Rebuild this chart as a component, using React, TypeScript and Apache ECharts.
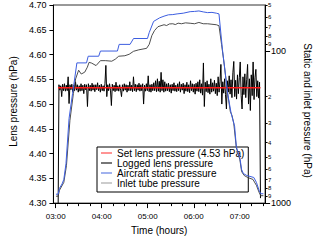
import React, { useEffect, useRef } from 'react';
import * as echarts from 'echarts';

// ---- Data ----
const xMajorHours = [3, 4, 5, 6, 7];
const xMinorHours = [3.25, 3.5, 3.75, 4.25, 4.5, 4.75, 5.25, 5.5, 5.75, 6.25, 6.5, 6.75, 7.25, 7.5];
const rightMinorTicks = [50, 60, 70, 80, 90, 200, 300, 400, 500, 600, 700, 800, 900];
const rightMajorTicks = [100, 1000];

const setLensPressure = 4.533;
const setLensTimes = [3.05, 7.45];

const lensT0 = 3.05;
const lensDt = 0.02;
const lensValues = [
  4.250,
  4.539, 4.528, 4.537, 4.515, 4.540, 4.527, 4.541, 4.526, 4.538,
  4.527, 4.555, 4.501, 4.539, 4.529, 4.540, 4.525, 4.538, 4.527, 4.545,
  4.528, 4.539, 4.524, 4.537, 4.526, 4.541, 4.527, 4.538, 4.521, 4.540,
  4.529, 4.539, 4.495, 4.541, 4.527, 4.538, 4.526, 4.542, 4.528, 4.539,
  4.525, 4.539, 4.529, 4.543, 4.527, 4.538, 4.524, 4.540, 4.527, 4.537,
  4.526, 4.541, 4.578, 4.515, 4.539, 4.527, 4.541, 4.528, 4.497, 4.540,
  4.527, 4.538, 4.525, 4.544, 4.527, 4.537, 4.526, 4.539, 4.528, 4.515,
  4.539, 4.526, 4.541, 4.528, 4.539, 4.524, 4.538, 4.527, 4.545, 4.527,
  4.538, 4.525, 4.555, 4.527, 4.540, 4.525, 4.539, 4.528, 4.542, 4.526,
  4.539, 4.527, 4.541, 4.500, 4.538, 4.526, 4.541, 4.527, 4.557, 4.525,
  4.539, 4.524, 4.540, 4.527, 4.543, 4.527, 4.547, 4.525, 4.551, 4.526,
  4.546, 4.524, 4.564, 4.527, 4.549, 4.524, 4.545, 4.526, 4.541, 4.527,
  4.542, 4.525, 4.539, 4.522, 4.540, 4.527, 4.543, 4.526, 4.538, 4.525,
  4.541, 4.527, 4.545, 4.524, 4.540, 4.528, 4.542, 4.521, 4.539, 4.526,
  4.544, 4.525, 4.539, 4.523, 4.547, 4.527, 4.541, 4.524, 4.540, 4.520,
  4.542, 4.526, 4.545, 4.525, 4.549, 4.522, 4.541, 4.518, 4.583, 4.495,
  4.544, 4.525, 4.547, 4.523, 4.540, 4.520, 4.551, 4.524, 4.543, 4.526,
  4.548, 4.521, 4.542, 4.517, 4.555, 4.524, 4.546, 4.580, 4.500, 4.545,
  4.522, 4.551, 4.519, 4.490, 4.547, 4.524, 4.557, 4.520, 4.549, 4.513,
  4.563, 4.586, 4.515, 4.548, 4.510, 4.559, 4.521, 4.553, 4.585, 4.517,
  4.490, 4.555, 4.519, 4.561, 4.513, 4.549, 4.580, 4.500, 4.551, 4.487,
  4.559, 4.517, 4.585, 4.509, 4.553, 4.570, 4.515, 4.547, 4.512, 4.544,
  4.310,
];

const staticTimes = [3.006, 3.053, 3.081, 3.138, 3.176, 3.223, 3.290, 3.366, 3.460, 3.669, 3.706, 3.934, 3.972, 4.341, 4.379, 4.616, 4.691, 4.994, 5.032, 5.127, 5.259, 5.354, 5.449, 5.544, 5.638, 5.771, 5.922, 6.017, 6.112, 6.206, 6.301, 6.396, 6.491, 6.548, 6.623, 6.737, 6.8125, 6.888, 6.926, 7.002, 7.040, 7.078, 7.153, 7.305, 7.362, 7.419, 7.456, 7.513];
const staticValues = [874, 874, 800, 748, 699, 551, 278, 191, 120, 120, 108.5, 108.5, 100.3, 100.3, 90.7, 90.7, 83.0, 83.0, 75.9, 64.1, 60.7, 59.2, 58.0, 57.8, 57.2, 56.6, 55.3, 55.1, 54.7, 55.5, 56.1, 55.9, 56.6, 57.2, 97.8, 191, 257.6, 312.7, 427.7, 503.8, 602.6, 639.6, 658.9, 678.8, 731.2, 824, 868, 868];

const inletTimes = [3.006, 3.053, 3.081, 3.176, 3.233, 3.309, 3.384, 3.432, 3.498, 3.555, 3.631, 3.688, 3.725, 3.782, 3.877, 3.972, 4.085, 4.218, 4.294, 4.369, 4.502, 4.597, 4.691, 4.805, 4.975, 5.032, 5.089, 5.146, 5.222, 5.354, 5.41, 5.47, 5.544, 5.60, 5.66, 5.733, 5.82, 5.922, 6.017, 6.112, 6.206, 6.301, 6.396, 6.491, 6.548, 6.604, 6.661, 6.737, 6.794, 6.831, 6.869, 6.926, 7.002, 7.040, 7.097, 7.172, 7.286, 7.362, 7.419, 7.456, 7.513];
const inletValues = [901, 901, 824, 731, 568, 286, 191, 153, 134, 142, 138, 128, 119, 120.4, 125, 116, 116, 117, 113.5, 108.5, 107.7, 105.3, 100.7, 98.5, 96.3, 90.7, 79.4, 73.7, 69.4, 67.4, 68.2, 66.6, 66.4, 67.2, 65.8, 66.4, 65.5, 65.9, 66.4, 65.1, 66.4, 66.4, 66.9, 67.4, 68.4, 90.7, 122, 191, 250, 265.5, 299, 434, 519, 621, 659, 679, 699, 765, 849, 894, 894];

const NAME_SET = 'Set lens pressure (4.53 hPa)';
const NAME_LOGGED = 'Logged lens pressure';
const NAME_STATIC = 'Aircraft static pressure';
const NAME_INLET = 'Inlet tube pressure';

const FONT = '"Liberation Sans", Arial, Helvetica, sans-serif';
const RMIN = 50;
const RMAX = 1000;

const ICON_THIN = 'path://M0,0h0.01v0.01h-0.01zM0,4.4h11v1.2h-11zM10.99,9.99h0.01v0.01h-0.01z';
const ICON_THICK = 'path://M0,0h0.01v0.01h-0.01zM0,3.9h11v2.2h-11zM10.99,9.99h0.01v0.01h-0.01z';

export default function App() {
  const ref = useRef<HTMLDivElement>(null);

  useEffect(() => {
    if (!ref.current) return;
    const chart = echarts.init(ref.current, null, { renderer: 'svg' });
    const xMin = 2.95;
    const xMax = 7.55;
    const lgMin = Math.log10(RMIN);
    const lgMax = Math.log10(RMAX);
    const fmtHour = (v: number) => (v < 10 ? '0' : '') + Math.round(v) + ':00';
    const minorLabel = (v: number) => {
      const p = Math.pow(10, v);
      const mag = Math.pow(10, Math.floor(Math.log10(p) + 1e-9));
      return String(Math.round(p / mag));
    };

    chart.setOption({
      animation: false,
      backgroundColor: '#fff',
      textStyle: { fontFamily: FONT },
      grid: {
        left: 43, right: 34, top: 5, bottom: 34,
        show: true, borderColor: '#333', borderWidth: 1, backgroundColor: 'transparent',
      },
      legend: {
        orient: 'vertical',
        left: 97,
        top: 147,
        padding: [1, 4, 4, 4],
        itemWidth: 11,
        itemHeight: 10,
        itemGap: 0,
        backgroundColor: '#fff',
        borderColor: '#000',
        borderWidth: 1,
        borderRadius: 0,
        textStyle: { fontSize: 10, lineHeight: 10, color: '#000', fontFamily: FONT },
        data: [
          { name: NAME_SET, icon: ICON_THIN, itemStyle: { color: '#ff2a2a' } },
          { name: NAME_LOGGED, icon: ICON_THICK, itemStyle: { color: '#777' } },
          { name: NAME_STATIC, icon: ICON_THIN, itemStyle: { color: '#4466dd' } },
          { name: NAME_INLET, icon: ICON_THIN, itemStyle: { color: '#999' } },
        ],
      },
      xAxis: [
        {
          type: 'value', min: xMin, max: xMax, position: 'bottom',
          name: 'Time (hours)', nameLocation: 'middle', nameGap: 21,
          nameTextStyle: { fontSize: 10, color: '#000', fontFamily: FONT },
          axisLine: { show: true, lineStyle: { color: '#000', width: 1 } },
          axisTick: { show: true, length: 5, customValues: xMajorHours, lineStyle: { color: '#000' } },
          axisLabel: { customValues: xMajorHours, formatter: fmtHour, fontSize: 8, color: '#000', margin: 9 },
          splitLine: { show: false },
        },
        {
          type: 'value', min: xMin, max: xMax, position: 'bottom',
          axisLine: { show: false },
          axisTick: { show: true, length: 3, customValues: xMinorHours, lineStyle: { color: '#000' } },
          axisLabel: { show: false },
          splitLine: { show: false },
        },
      ],
      yAxis: [
        {
          type: 'value', min: 4.3, max: 4.7, interval: 0.05, position: 'left',
          name: 'Lens pressure (hPa)', nameLocation: 'middle', nameGap: 29,
          nameTextStyle: { fontSize: 10, color: '#000', fontFamily: FONT, padding: [0, 0, 0, 5] },
          axisLine: { show: true, lineStyle: { color: '#000', width: 1 } },
          axisTick: { show: true, length: 4, lineStyle: { color: '#000' } },
          axisLabel: { formatter: (v: number) => v.toFixed(2), fontSize: 9, color: '#000', margin: 7 },
          splitLine: { show: false },
        },
        {
          type: 'log', logBase: 10, min: RMIN, max: RMAX, inverse: true, position: 'right',
          axisLine: { show: true, lineStyle: { color: '#000', width: 1 } },
          axisTick: { show: false },
          axisLabel: { show: false },
          splitLine: { show: false },
        },
        {
          type: 'value', min: lgMin, max: lgMax, inverse: true, position: 'right',
          axisLine: { show: false },
          axisTick: { show: true, length: 2.5, customValues: rightMinorTicks.map((v) => Math.log10(v)), lineStyle: { color: '#000' } },
          axisLabel: { customValues: rightMinorTicks.map((v) => Math.log10(v)), formatter: minorLabel, fontSize: 6, color: '#000', margin: 3 },
          splitLine: { show: false },
        },
        {
          type: 'value', min: lgMin, max: lgMax, inverse: true, position: 'right',
          name: 'Static and inlet pressure (hPa)', nameLocation: 'middle', nameGap: 21, nameRotate: -90,
          nameTextStyle: { fontSize: 10, color: '#000', fontFamily: FONT, padding: [0, 0, 0, 13] },
          axisLine: { show: false },
          axisTick: { show: true, length: 5, customValues: rightMajorTicks.map((v) => Math.log10(v)), lineStyle: { color: '#000' } },
          axisLabel: { customValues: rightMajorTicks.map((v) => Math.log10(v)), formatter: (v: number) => String(Math.round(Math.pow(10, v))), fontSize: 9, color: '#000', margin: 6 },
          splitLine: { show: false },
        },
      ],
      series: [
        {
          name: NAME_LOGGED, type: 'line', xAxisIndex: 0, yAxisIndex: 0,
          data: lensValues.map((v, i) => [lensT0 + i * lensDt, v]),
          symbol: 'none', showSymbol: false,
          lineStyle: { color: '#000', width: 1 },
          itemStyle: { color: '#777' },
          z: 2,
        },
        {
          name: NAME_SET, type: 'line', xAxisIndex: 0, yAxisIndex: 0,
          data: setLensTimes.map((t) => [t, setLensPressure]),
          symbol: 'none', showSymbol: false,
          lineStyle: { color: '#ff1a1a', width: 1.4 },
          itemStyle: { color: '#ff2a2a' },
          z: 3,
        },
        {
          name: NAME_INLET, type: 'line', xAxisIndex: 0, yAxisIndex: 1,
          data: inletTimes.map((t, i) => [t, inletValues[i]]),
          symbol: 'none', showSymbol: false,
          lineStyle: { color: '#3a3a3a', width: 0.9 },
          itemStyle: { color: '#999' },
          z: 4,
        },
        {
          name: NAME_STATIC, type: 'line', xAxisIndex: 0, yAxisIndex: 1,
          data: staticTimes.map((t, i) => [t, staticValues[i]]),
          symbol: 'none', showSymbol: false,
          lineStyle: { color: '#3d5ee0', width: 1 },
          itemStyle: { color: '#4466dd' },
          z: 5,
        },
      ],
    });
    return () => chart.dispose();
  }, []);

  return (
    <div
      ref={ref}
      style={{ position: 'fixed', left: 0, top: 0, width: 320, height: 240, background: '#fff' }}
    />
  );
}
